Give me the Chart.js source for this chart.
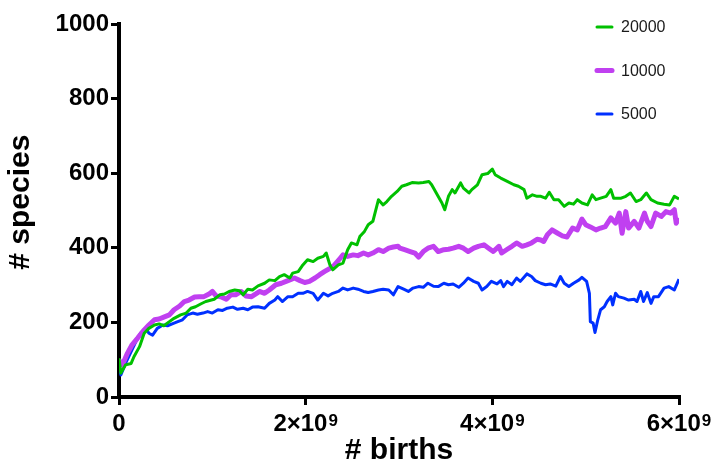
<!DOCTYPE html>
<html>
<head>
<meta charset="utf-8">
<script src="https://cdn.jsdelivr.net/npm/chart.js@4.4.0/dist/chart.umd.min.js"></script>
<style>
    html, body { margin: 0; padding: 0; background: #fff; }
    #wrap { width: 717px; height: 463px; position: relative; }
</style>
</head>
<body>
<div id="wrap"><canvas id="myChart"></canvas></div>
<script>
// points are [births in units of 10^9, # species]
const seriesNames = ['20000', '10000', '5000'];
const seriesColors = ['#00c000', '#c040f0', '#0030ff'];
const seriesWidths = [3, 5, 3];

const green20000 = [
    [0, 104], [0.02, 64], [0.07, 86], [0.13, 90], [0.16, 108], [0.22, 135], [0.27, 171], [0.32, 184], [0.38, 193], [0.43, 196],
    [0.48, 191], [0.54, 202], [0.59, 211], [0.66, 220], [0.72, 225], [0.77, 238], [0.82, 242], [0.88, 250], [0.93, 256], [0.99, 260],
    [1.02, 262], [1.08, 274], [1.13, 276], [1.18, 283], [1.24, 287], [1.29, 285], [1.33, 274], [1.38, 289], [1.43, 287], [1.49, 298],
    [1.56, 305], [1.61, 314], [1.67, 312], [1.72, 323], [1.77, 328], [1.83, 319], [1.86, 332], [1.92, 336], [1.97, 354], [2.02, 368],
    [2.08, 363], [2.13, 372], [2.19, 377], [2.22, 386], [2.26, 354], [2.29, 341], [2.35, 354], [2.40, 359], [2.45, 395], [2.49, 413],
    [2.55, 408], [2.58, 430], [2.63, 444], [2.67, 462], [2.72, 471], [2.78, 529], [2.83, 515], [2.87, 524], [2.92, 538], [2.98, 551],
    [3.03, 565], [3.08, 569], [3.14, 575], [3.21, 574], [3.26, 575], [3.32, 578], [3.35, 569], [3.41, 542], [3.46, 520], [3.49, 502],
    [3.53, 538], [3.57, 556], [3.60, 547], [3.66, 574], [3.69, 560], [3.75, 547], [3.78, 556], [3.84, 569], [3.89, 596], [3.95, 599],
    [4.00, 611], [4.03, 596], [4.09, 587], [4.16, 578], [4.23, 569], [4.28, 565], [4.34, 556], [4.37, 533], [4.43, 542], [4.48, 538],
    [4.52, 538], [4.57, 533], [4.61, 549], [4.66, 529], [4.71, 529], [4.77, 511], [4.82, 520], [4.87, 517], [4.91, 529], [4.96, 520],
    [5.02, 515], [5.07, 542], [5.11, 529], [5.16, 533], [5.22, 538], [5.27, 556], [5.30, 533], [5.38, 533], [5.43, 538], [5.48, 547],
    [5.54, 524], [5.59, 529], [5.65, 547], [5.70, 529], [5.77, 520], [5.84, 517], [5.90, 515], [5.95, 538], [6.00, 531]
];

const magenta10000 = [
    [0, 99], [0.036, 86], [0.09, 117], [0.14, 140], [0.20, 158], [0.27, 180], [0.32, 193], [0.38, 207], [0.43, 209], [0.48, 214],
    [0.54, 220], [0.59, 234], [0.65, 244], [0.70, 256], [0.75, 260], [0.81, 268], [0.86, 269], [0.91, 269], [0.97, 277], [1.00, 283],
    [1.04, 271], [1.09, 269], [1.15, 262], [1.20, 274], [1.25, 274], [1.31, 283], [1.36, 271], [1.42, 269], [1.47, 277], [1.505, 283],
    [1.56, 278], [1.61, 287], [1.68, 301], [1.74, 305], [1.79, 310], [1.85, 316], [1.88, 319], [1.94, 312], [1.99, 307], [2.04, 310],
    [2.10, 319], [2.15, 328], [2.20, 336], [2.26, 345], [2.31, 354], [2.37, 372], [2.40, 381], [2.45, 377], [2.51, 381], [2.56, 379],
    [2.62, 386], [2.67, 381], [2.72, 386], [2.78, 395], [2.83, 390], [2.89, 399], [2.94, 402], [2.99, 404], [3.01, 399], [3.06, 395],
    [3.12, 390], [3.17, 386], [3.21, 375], [3.26, 390], [3.31, 399], [3.37, 404], [3.42, 390], [3.48, 395], [3.53, 396], [3.58, 399],
    [3.64, 404], [3.69, 399], [3.74, 390], [3.80, 399], [3.85, 404], [3.91, 408], [3.96, 399], [4.01, 390], [4.07, 404], [4.10, 386],
    [4.16, 396], [4.21, 404], [4.26, 413], [4.32, 404], [4.37, 408], [4.42, 413], [4.48, 423], [4.52, 421], [4.55, 417], [4.59, 435],
    [4.64, 448], [4.70, 439], [4.75, 432], [4.80, 429], [4.86, 453], [4.91, 448], [4.96, 477], [5.00, 462], [5.05, 456], [5.11, 448],
    [5.16, 453], [5.21, 457], [5.27, 480], [5.32, 466], [5.36, 493], [5.39, 439], [5.43, 497], [5.46, 453], [5.52, 471], [5.57, 453],
    [5.63, 493], [5.66, 471], [5.70, 457], [5.75, 493], [5.81, 484], [5.86, 497], [5.91, 493], [5.95, 502], [5.97, 466], [6.00, 480]
];

const blue5000 = [
    [0, 80], [0.02, 59], [0.07, 90], [0.13, 122], [0.18, 148], [0.23, 171], [0.29, 184], [0.32, 171], [0.36, 166], [0.41, 184],
    [0.47, 193], [0.52, 191], [0.59, 198], [0.63, 202], [0.68, 207], [0.73, 220], [0.79, 225], [0.84, 222], [0.90, 225], [0.95, 229],
    [1.00, 225], [1.06, 234], [1.11, 232], [1.16, 238], [1.22, 241], [1.27, 235], [1.33, 238], [1.38, 234], [1.43, 241], [1.49, 242],
    [1.56, 238], [1.61, 251], [1.67, 260], [1.70, 269], [1.75, 256], [1.81, 269], [1.86, 269], [1.92, 278], [1.97, 278], [2.02, 283],
    [2.08, 278], [2.13, 260], [2.19, 278], [2.24, 271], [2.29, 278], [2.35, 283], [2.40, 292], [2.45, 287], [2.51, 292], [2.56, 289],
    [2.62, 283], [2.67, 280], [2.72, 283], [2.78, 287], [2.83, 289], [2.89, 287], [2.94, 274], [2.99, 296], [3.05, 289], [3.10, 283],
    [3.15, 292], [3.21, 296], [3.26, 294], [3.31, 305], [3.37, 297], [3.42, 296], [3.48, 305], [3.53, 301], [3.58, 303], [3.64, 294],
    [3.69, 305], [3.74, 319], [3.80, 310], [3.85, 305], [3.89, 287], [3.94, 296], [3.99, 310], [4.05, 303], [4.09, 312], [4.12, 296],
    [4.16, 310], [4.21, 301], [4.26, 319], [4.30, 310], [4.37, 330], [4.42, 323], [4.46, 312], [4.52, 305], [4.57, 301], [4.62, 303],
    [4.68, 297], [4.73, 323], [4.77, 305], [4.82, 296], [4.87, 305], [4.93, 314], [4.96, 321], [5.01, 310], [5.04, 278], [5.05, 202],
    [5.08, 198], [5.10, 173], [5.13, 207], [5.16, 234], [5.20, 242], [5.23, 256], [5.27, 269], [5.29, 247], [5.32, 278], [5.35, 269],
    [5.41, 265], [5.46, 260], [5.52, 262], [5.55, 256], [5.59, 283], [5.62, 256], [5.66, 280], [5.70, 251], [5.73, 269], [5.78, 269],
    [5.84, 292], [5.89, 296], [5.95, 287], [6.00, 316]
];

// x tick labels: base text plus superscript exponent
const xTickValues = [0, 2, 4, 6];
const xTickBase = ['0', '2×10', '4×10', '6×10'];
const xTickExp = ['', '9', '9', '9'];
const yTicks = [0, 200, 400, 600, 800, 1000];

const allSeries = [green20000, magenta10000, blue5000];

const fontFamily = "'Liberation Sans', Arial, 'DejaVu Sans', sans-serif";
Chart.defaults.font.family = fontFamily;
Chart.defaults.color = '#000';

// legend drawn in the upper right corner, over the plot
const cornerLegend = {
    id: 'cornerLegend',
    afterDraw(chart) {
        const ctx = chart.ctx;
        ctx.save();
        ctx.font = '16px ' + fontFamily;
        ctx.textBaseline = 'middle';
        ctx.fillStyle = '#1a1a1a';
        ctx.lineCap = 'round';
        chart.data.datasets.forEach((ds, i) => {
            const y = 27 + i * 43.5;
            ctx.strokeStyle = ds.borderColor;
            ctx.lineWidth = ds.borderWidth;
            ctx.beginPath();
            ctx.moveTo(597, y);
            ctx.lineTo(612, y);
            ctx.stroke();
            ctx.fillText(ds.label, 621, y + 1);
        });
        ctx.restore();
    }
};

// x tick labels with a real superscript, placed at the scale's tick pixels
const powerTicks = {
    id: 'powerTicks',
    afterDraw(chart) {
        const ctx = chart.ctx;
        const xs = chart.scales.x;
        const baseY = xs.top + 34;
        ctx.save();
        ctx.fillStyle = '#000';
        ctx.textBaseline = 'alphabetic';
        ctx.textAlign = 'left';
        xTickValues.forEach((v, i) => {
            const px = xs.getPixelForValue(v);
            ctx.font = 'bold 24px ' + fontFamily;
            const wb = ctx.measureText(xTickBase[i]).width;
            ctx.font = 'bold 17px ' + fontFamily;
            const we = xTickExp[i] ? ctx.measureText(xTickExp[i]).width + 1 : 0;
            const start = px - (wb + we) / 2;
            ctx.font = 'bold 24px ' + fontFamily;
            ctx.fillText(xTickBase[i], start, baseY);
            if (xTickExp[i]) {
                ctx.font = 'bold 17px ' + fontFamily;
                ctx.fillText(xTickExp[i], start + wb + 1, baseY - 5);
            }
        });
        ctx.restore();
    }
};

const ctx = document.getElementById('myChart').getContext('2d');
const myChart = new Chart(ctx, {
    type: 'line',
    data: {
        datasets: seriesNames.map((name, i) => ({
            label: name,
            data: allSeries[i].map(p => ({ x: p[0], y: p[1] })),
            borderColor: seriesColors[i],
            borderWidth: seriesWidths[i],
            borderJoinStyle: 'round',
            pointRadius: 0,
            tension: 0,
            fill: false,
        })),
    },
    options: {
        responsive: true,
        maintainAspectRatio: false,
        animation: false,
        layout: { padding: { top: 24, right: 38, left: 0, bottom: 0 } },
        plugins: {
            legend: { display: false },
            tooltip: { enabled: false },
        },
        scales: {
            x: {
                type: 'linear',
                min: 0,
                max: 6,
                afterFit: (s) => { s.height = 66; },
                afterBuildTicks: (s) => { s.ticks = xTickValues.map(v => ({ value: v })); },
                ticks: {
                    padding: 3,
                    maxRotation: 0,
                    font: { size: 24, weight: 'bold' },
                    callback: () => '',
                },
                grid: { drawOnChartArea: false, drawTicks: true, tickLength: 8, lineWidth: 3, color: '#000' },
                border: { display: true, width: 4, color: '#000' },
                title: {
                    display: true,
                    text: '# births',
                    font: { size: 30, weight: 'bold', lineHeight: 1.0 },
                    padding: { top: 0, bottom: -3 },
                },
            },
            y: {
                min: 0,
                max: 1000,
                afterFit: (s) => { s.width = 119; },
                afterBuildTicks: (s) => { s.ticks = yTicks.map(v => ({ value: v })); },
                ticks: {
                    padding: 2,
                    font: { size: 24, weight: 'bold' },
                    callback: (v) => String(v),
                },
                grid: { drawOnChartArea: false, drawTicks: true, tickLength: 8, lineWidth: 3, color: '#000' },
                border: { display: true, width: 4, color: '#000' },
                title: {
                    display: true,
                    text: '  # species',
                    font: { size: 30, weight: 'bold', lineHeight: 1.2 },
                    padding: { top: 3, bottom: 0 },
                },
            },
        },
    },
    plugins: [cornerLegend, powerTicks],
});
</script>
</body>
</html>
